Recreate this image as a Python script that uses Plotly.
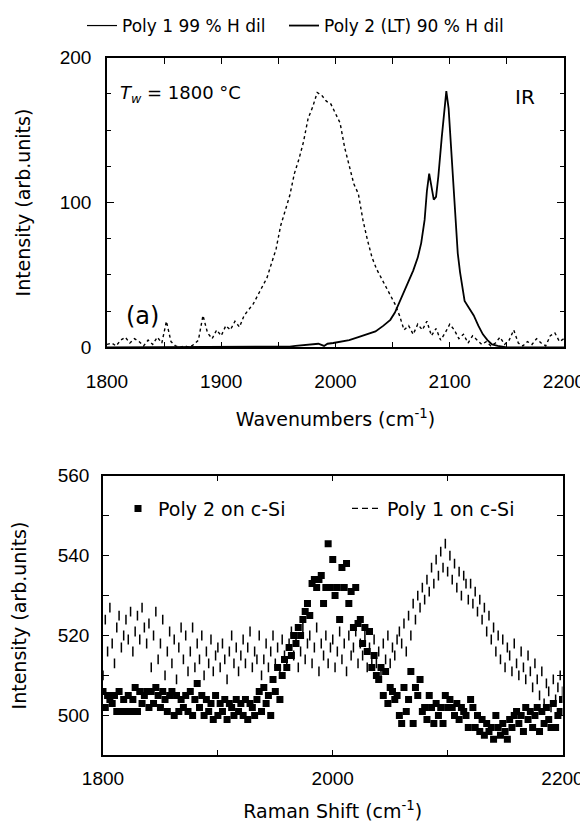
import plotly.graph_objects as go

# ---------------- top panel (IR) ----------------
ir_dot_x = list(range(1800, 2201, 4))
ir_dot_y = [2, 3, 1, 5, 7, 3, 6, 4, 1, 5,
            2, 7, 3, 18, 4, 1, 0, 1, 0, 2,
            5, 22, 10, 6, 12, 8, 15, 12, 18, 14,
            22, 26, 30, 36, 42, 48, 58, 68, 84, 95,
            105, 120, 130, 142, 158, 166, 176, 174, 170, 168,
            162, 155, 138, 125, 113, 106, 88, 74, 62, 54,
            48, 42, 36, 30, 22, 12, 15, 9, 16, 12,
            18, 8, 13, 5, 10, 16, 12, 6, 9, 3,
            8, 5, 2, 4, 1, 3, 7, 2, 5, 12,
            3, 1, 4, 2, 6, 3, 1, 8, 10, 4,
            6]

ir_solid_x = [1800, 1850, 1900, 1950, 1960, 1965, 1975, 1985, 1990, 1993,
              1998, 2005, 2012, 2020, 2028, 2035, 2042, 2048, 2052, 2056,
              2060, 2064, 2068, 2072, 2075, 2078, 2080, 2082, 2084, 2086,
              2088, 2090, 2093, 2095, 2097, 2099, 2101, 2103, 2105, 2107,
              2109, 2111, 2113, 2117, 2121, 2125, 2129, 2133, 2137, 2142,
              2150, 2200]
ir_solid_y = [0, 0, 0, 0, 0.5, 1, 2, 2.5, 1, 2.5,
              3, 4, 5, 7, 9, 11, 15, 19, 24, 31,
              38, 45, 53, 62, 72, 88, 108, 120, 110, 102,
              104, 118, 145, 162, 177, 165, 140, 115, 88, 65,
              52, 40, 32, 27, 22, 15, 9, 5, 2, 1,
              0, 0]

# ---------------- bottom panel (Raman) ----------------
raman_x = list(range(1800, 2201, 2))
raman_poly2 = [506, 502, 505, 504, 503, 505, 501, 506, 501, 504,
               501, 505, 501, 504, 507, 501, 506, 503, 505, 506,
               502, 506, 503, 507, 505, 502, 506, 504, 501, 505,
               506, 500, 505, 501, 504, 502, 505, 501, 506, 500,
               504, 508, 502, 505, 500, 504, 501, 503, 499, 505,
               500, 503, 501, 504, 499, 503, 502, 500, 504, 501,
               503, 500, 504, 499, 503, 502, 500, 504, 506, 501,
               507, 503, 505, 500, 509, 506, 512, 504, 510, 514,
               512, 517, 515, 520, 518, 522, 520, 524, 526, 528,
               525, 533, 534, 532, 534, 535, 528, 532, 543, 532,
               539, 530, 532, 524, 537, 532, 538, 528, 531, 522,
               532, 523, 524, 518, 522, 516, 521, 512, 515, 510,
               509, 512, 505, 511, 503, 507, 506, 504, 505, 500,
               498, 507, 501, 504, 511, 498, 507, 505, 509, 501,
               502, 499, 505, 502, 498, 503, 500, 502, 498, 505,
               502, 504, 502, 500, 503, 499, 502, 501, 500, 497,
               504, 502, 497, 500, 496, 499, 495, 498, 496, 497,
               494, 500, 497, 495, 498, 496, 494, 499, 497, 500,
               501, 498, 500, 496, 502, 499, 501, 497, 500, 502,
               496, 501, 498, 502, 499, 497, 503, 497, 500, 501,
               504]
raman_poly1 = [510, 524, 516, 527, 518, 513, 522, 525, 517, 520,
               524, 519, 526, 516, 521, 525, 519, 527, 522, 518,
               523, 512, 520, 526, 514, 518, 524, 510, 516, 521,
               513, 519, 509, 517, 522, 514, 520, 511, 516, 522,
               512, 518, 514, 520, 510, 516, 513, 519, 511, 515,
               517, 512, 518, 514, 509, 516, 520, 513, 517, 511,
               515, 519, 513, 517, 521, 512, 516, 514, 520, 510,
               514, 518, 512, 516, 520, 513, 517, 511, 519, 515,
               513, 518, 521, 515, 519, 512, 516, 522, 514, 518,
               520, 513, 517, 522, 511, 518, 515, 520, 513, 517,
               519, 512, 516, 521, 514, 518, 511, 520, 515, 517,
               521, 513, 518, 515, 520, 512, 517, 514, 519, 513,
               516, 511, 518, 514, 520, 513, 517, 515, 519, 521,
               518, 523, 516, 525, 520, 528, 524, 530, 527, 532,
               529, 534, 531, 537, 533, 539, 535, 541, 537, 543,
               536, 540, 534, 538, 532, 536, 530, 535, 533, 529,
               533, 528, 531, 526, 529, 524, 527, 521, 525, 519,
               522, 516, 520, 514, 519, 512, 517, 515, 511, 518,
               513, 510, 516, 512, 509, 515, 511, 507, 513, 509,
               505, 511, 503, 508, 506, 502, 509, 504, 507, 510,
               506]

top_xticks = list(range(1800, 2201, 50))
top_xtext = ["1800", "", "1900", "", "2000", "", "2100", "", "2200"]
top_yticks = [0, 100, 200]
bot_xticks = [1800, 1900, 2000, 2100, 2200]
bot_xtext = ["1800", "", "2000", "", "2200"]
bot_yticks = list(range(490, 561, 10))
bot_ytext = ["", "500", "", "520", "", "540", "", "560"]

# the page body has an 8 px margin: size the figure to the visible area
OFF = 8
W, H = 588 - OFF, 825 - OFF


def px(X):
    return (X - OFF) / W


def py(Y):
    return 1 - (Y - OFF) / H


TXT = "DejaVu Sans"
NUM = "Liberation Sans"
fig = go.Figure()

# top panel
fig.add_trace(go.Scatter(x=[None], y=[None], mode="lines", name="Poly 1 99 % H dil",
                         line=dict(color="black", width=1.2), legend="legend",
                         xaxis="x", yaxis="y"))
fig.add_trace(go.Scatter(x=ir_solid_x, y=ir_solid_y, mode="lines", name="Poly 2 (LT) 90 % H dil",
                         line=dict(color="black", width=1.8), legend="legend4",
                         xaxis="x", yaxis="y"))
fig.add_trace(go.Scatter(x=ir_dot_x, y=ir_dot_y, mode="lines", showlegend=False,
                         line=dict(color="black", width=1.4, dash="dot"),
                         xaxis="x", yaxis="y"))

# bottom panel
fig.add_trace(go.Scatter(x=raman_x, y=raman_poly2, mode="markers", name="Poly 2 on c-Si",
                         marker=dict(symbol="square", size=7, color="black"),
                         legend="legend2", xaxis="x2", yaxis="y2"))
fig.add_trace(go.Scatter(x=[None], y=[None], mode="lines", name="Poly 1 on c-Si",
                         line=dict(color="black", width=1.3, dash="6px,4px"),
                         legend="legend3", xaxis="x2", yaxis="y2"))
fig.add_trace(go.Scatter(x=raman_x, y=raman_poly1, mode="markers", showlegend=False,
                         marker=dict(symbol="line-ns", size=7, color="black",
                                     line=dict(color="black", width=1.5)),
                         xaxis="x2", yaxis="y2"))

axis_common = dict(showline=True, linecolor="black", linewidth=1.5, mirror="ticks",
                   ticks="inside", tickcolor="black", showgrid=False, zeroline=False,
                   automargin=False,
                   tickfont=dict(family=NUM, size=19, color="black"))
title_font = dict(family=TXT, size=19, color="black")
leg_common = dict(orientation="h", yanchor="middle", xanchor="left",
                  bgcolor="rgba(0,0,0,0)", itemwidth=30)

fig.update_layout(
    width=W, height=H,
    margin=dict(l=0, r=0, t=0, b=0),
    paper_bgcolor="white", plot_bgcolor="white",
    font=dict(family=TXT, size=17, color="black"),
    xaxis=dict(domain=[px(107), px(564)], range=[1800, 2200], anchor="y",
               tickvals=top_xticks, ticktext=top_xtext, ticklen=6, ticklabelstandoff=16,
               title=dict(text="Wavenumbers (cm<sup>-1</sup>)", standoff=22, font=title_font),
               **axis_common),
    yaxis=dict(domain=[py(345), py(54)], range=[0, 200], anchor="x",
               tickvals=top_yticks, ticklen=7, ticklabelstandoff=10,
               minor=dict(dtick=25, ticklen=4, ticks="inside", tickcolor="black"),
               title=dict(text="Intensity (arb.units)", standoff=24, font=title_font),
               **axis_common),
    xaxis2=dict(domain=[px(103), px(562.5)], range=[1800, 2200], anchor="y2",
                tickvals=bot_xticks, ticktext=bot_xtext, ticklen=6, ticklabelstandoff=5,
                title=dict(text="Raman Shift (cm<sup>-1</sup>)", standoff=17, font=title_font),
                **axis_common),
    yaxis2=dict(domain=[py(755), py(474)], range=[490, 560], anchor="x2",
                tickvals=bot_yticks, ticktext=bot_ytext, ticklen=6, ticklabelstandoff=8,
                title=dict(text="Intensity (arb.units)", standoff=26, font=title_font),
                **axis_common),
    legend=dict(x=px(82), y=py(22), font=dict(family=TXT, size=17), **leg_common),
    legend4=dict(x=px(284), y=py(22), font=dict(family=TXT, size=17), **leg_common),
    legend2=dict(x=px(118), y=py(507), font=dict(family=TXT, size=19), **leg_common),
    legend3=dict(x=px(347), y=py(507), font=dict(family=TXT, size=19), **leg_common),
    annotations=[
        dict(text="<i>T</i><sub><i>w</i></sub> = 1800 °C", xref="paper", yref="paper",
             x=px(118), y=py(90), xanchor="left", yanchor="middle",
             showarrow=False, font=dict(family=TXT, size=18)),
        dict(text="IR", xref="paper", yref="paper",
             x=px(525), y=py(93), xanchor="center", yanchor="middle",
             showarrow=False, font=dict(family=TXT, size=20)),
        dict(text="(a)", xref="paper", yref="paper",
             x=px(142), y=py(313), xanchor="center", yanchor="middle",
             showarrow=False, font=dict(family=TXT, size=24)),
    ],
)

fig.write_html("out.html")
